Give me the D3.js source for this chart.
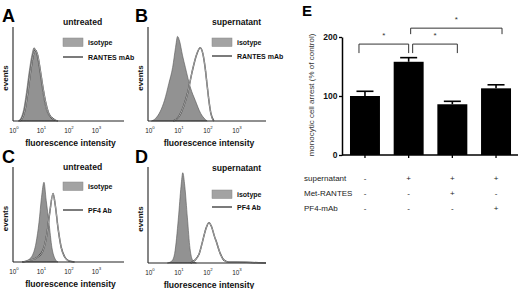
<!DOCTYPE html>
<html>
<head>
<meta charset="utf-8">
<script src="https://cdn.jsdelivr.net/npm/d3@7"></script>
<style>
  body { margin: 0; background: #fff; }
  svg { display: block; font-family: "Liberation Sans", Arial, sans-serif; }
</style>
</head>
<body>
<svg id="fig" width="520" height="289"></svg>
<script>
// flow histograms: [log10 decade, relative height]
var decadeTicks = [0, 1, 2, 3];

var histA_isotype = [[0.15,0],[0.25,0.03],[0.35,0.12],[0.45,0.3],[0.55,0.52],[0.65,0.7],[0.73,0.78],[0.8,0.74],[0.9,0.6],[1.0,0.4],[1.1,0.22],[1.2,0.1],[1.3,0.05],[1.42,0.03],[1.52,0]];
var histA_rantes  = [[0.2,0],[0.3,0.03],[0.4,0.12],[0.5,0.3],[0.6,0.52],[0.7,0.7],[0.78,0.75],[0.86,0.7],[0.95,0.55],[1.05,0.36],[1.15,0.2],[1.25,0.09],[1.35,0.04],[1.5,0.01],[1.6,0]];

var histB_isotype = [[0.05,0],[0.2,0.03],[0.35,0.1],[0.5,0.22],[0.65,0.4],[0.78,0.57],[0.88,0.78],[0.95,0.9],[1.02,0.85],[1.12,0.7],[1.22,0.57],[1.4,0.35],[1.56,0.22],[1.75,0.08],[1.97,0]];
var histB_rantes  = [[0.8,0],[1.0,0.05],[1.15,0.15],[1.3,0.3],[1.45,0.52],[1.6,0.7],[1.73,0.78],[1.82,0.72],[1.9,0.57],[1.97,0.38],[2.03,0.22],[2.1,0.08],[2.2,0]];

var histC_isotype = [[0.3,0],[0.5,0.02],[0.65,0.06],[0.8,0.2],[0.91,0.42],[1.0,0.68],[1.09,0.84],[1.17,0.65],[1.27,0.42],[1.38,0.15],[1.5,0.03],[1.6,0]];
var histC_pf4     = [[0.3,0],[0.6,0.02],[0.85,0.05],[1.05,0.12],[1.2,0.3],[1.3,0.52],[1.42,0.72],[1.5,0.6],[1.6,0.36],[1.72,0.15],[1.85,0.05],[2.0,0.01],[2.2,0]];

var histD_isotype = [[0.6,0],[0.75,0.02],[0.85,0.1],[0.98,0.47],[1.07,0.8],[1.13,0.94],[1.2,0.8],[1.29,0.47],[1.38,0.15],[1.47,0.03],[1.6,0]];
var histD_pf4     = [[1.4,0],[1.55,0.03],[1.7,0.1],[1.8,0.21],[1.92,0.35],[2.03,0.42],[2.12,0.38],[2.22,0.28],[2.3,0.21],[2.42,0.1],[2.55,0.03],[2.7,0.01],[3.0,0.01],[3.5,0.005],[4,0]];

// panel E
var conditions = ["control", "supernatant", "supernatant + Met-RANTES", "supernatant + PF4-mAb"];
var arrestValues = [100, 158, 86, 113];
var arrestErrors = [8, 7, 5, 6];
var arrestTicks = [0, 100, 200];
var tableRows = ["supernatant", "Met-RANTES", "PF4-mAb"];
var tableSigns = [["-", "+", "+", "+"], ["-", "-", "+", "-"], ["-", "-", "-", "+"]];
var sigPairs = [[0, 1], [1, 2], [1, 3]];
var sigLevels = [188, 188, 215];

var svg = d3.select("#fig");

var panels = [
  {letter: "A", title: "untreated", lineLabel: "RANTES mAb", iso: histA_isotype, ab: histA_rantes,
   x0: 13, x1: 124, xStart: 14, top: 27, bot: 121, lx: 63, ly: 38, lineY: 57, letterX: 2, letterY: 22, titleY: 25},
  {letter: "B", title: "supernatant", lineLabel: "RANTES mAb", iso: histB_isotype, ab: histB_rantes,
   x0: 148, x1: 266, xStart: 150, top: 27, bot: 121, lx: 212, ly: 38, lineY: 56, letterX: 135, letterY: 22, titleY: 25},
  {letter: "C", title: "untreated", lineLabel: "PF4 Ab", iso: histC_isotype, ab: histC_pf4,
   x0: 13, x1: 124, xStart: 14, top: 167, bot: 262, lx: 63, ly: 182, lineY: 210, letterX: 2, letterY: 163, titleY: 170},
  {letter: "D", title: "supernatant", lineLabel: "PF4 Ab", iso: histD_isotype, ab: histD_pf4,
   x0: 148, x1: 266, xStart: 150, top: 167, bot: 263, lx: 212, ly: 190, lineY: 207, letterX: 135, letterY: 163, titleY: 171}
];

panels.forEach(function (p) {
  var g = svg.append("g");
  var x = d3.scaleLinear().domain([0, 4]).range([p.xStart, p.x1]);
  var y = d3.scaleLinear().domain([0, 1]).range([p.bot, p.top]);

  var area = d3.area().x(d => x(d[0])).y0(p.bot).y1(d => y(d[1])).curve(d3.curveMonotoneX);
  var line = d3.line().x(d => x(d[0])).y(d => y(d[1])).curve(d3.curveMonotoneX);

  // isotype filled
  g.append("path").attr("d", area(p.iso))
    .attr("fill", "#929292").attr("stroke", "#555").attr("stroke-width", 0.6);
  // antibody outline
  g.append("path").attr("d", line(p.ab))
    .attr("fill", "none").attr("stroke", "#3a3a3a").attr("stroke-width", 1.5);
  g.append("path").attr("d", line(p.ab))
    .attr("fill", "none").attr("stroke", "#eeeeee").attr("stroke-width", 0.6);

  // axes
  g.append("line").attr("x1", p.x0).attr("x2", p.x0).attr("y1", p.top).attr("y2", p.bot)
    .attr("stroke", "#222").attr("stroke-width", 1.1);
  g.append("line").attr("x1", p.x0).attr("x2", p.x1).attr("y1", p.bot).attr("y2", p.bot)
    .attr("stroke", "#222").attr("stroke-width", 1.1);

  var tl = g.selectAll(".tl").data(decadeTicks).join("text")
    .attr("x", d => x(d)).attr("y", p.bot + 12)
    .attr("text-anchor", "middle").attr("font-size", 6.4).attr("fill", "#222");
  tl.append("tspan").text("10");
  tl.append("tspan").attr("dy", -4.5).attr("font-size", 4.3).text(d => d);

  g.append("text").attr("x", (p.x0 + p.x1) / 2 + 2).attr("y", p.bot + 25)
    .attr("text-anchor", "middle").attr("font-size", 8.6).attr("font-weight", "bold")
    .attr("fill", "#111").text("fluorescence intensity");

  g.append("text").attr("transform", "translate(" + (p.x0 - 5) + "," + ((p.top + p.bot) / 2 + 4) + ") rotate(-90)")
    .attr("text-anchor", "middle").attr("font-size", 8).attr("font-weight", "bold")
    .attr("fill", "#111").text("events");

  g.append("text").attr("x", p.letterX).attr("y", p.letterY)
    .attr("font-size", 18).attr("font-weight", "bold").attr("fill", "#000").text(p.letter);

  g.append("text").attr("x", p.lx).attr("y", p.titleY)
    .attr("font-size", 8.6).attr("font-weight", "bold").attr("fill", "#111").text(p.title);

  // legend
  g.append("rect").attr("x", p.lx).attr("y", p.ly).attr("width", 20).attr("height", 8.5)
    .attr("fill", "#a3a3a3").attr("stroke", "#888").attr("stroke-width", 0.5);
  g.append("text").attr("x", p.lx + 25).attr("y", p.ly + 7)
    .attr("font-size", 7).attr("font-weight", "bold").attr("fill", "#111").text("isotype");
  g.append("line").attr("x1", p.lx).attr("x2", p.lx + 20).attr("y1", p.lineY).attr("y2", p.lineY)
    .attr("stroke", "#333").attr("stroke-width", 1.3);
  g.append("text").attr("x", p.lx + 25).attr("y", p.lineY + 2.5)
    .attr("font-size", 7).attr("font-weight", "bold").attr("fill", "#111").text(p.lineLabel);
});

// ---- panel E ----
var gE = svg.append("g");
var xE = d3.scaleBand().domain(d3.range(conditions.length)).range([343, 518])
  .paddingInner(0.314).paddingOuter(0.16);
var yE = d3.scaleLinear().domain([0, 200]).range([155, 37]);
var cx = i => xE(i) + xE.bandwidth() / 2;

gE.append("text").attr("x", 302).attr("y", 16)
  .attr("font-size", 15).attr("font-weight", "bold").text("E");

// error bars (upper only)
gE.selectAll(".err").data(arrestValues).join("line")
  .attr("x1", (d, i) => cx(i)).attr("x2", (d, i) => cx(i))
  .attr("y1", d => yE(d)).attr("y2", (d, i) => yE(d + arrestErrors[i]))
  .attr("stroke", "#000").attr("stroke-width", 1.6);
gE.selectAll(".cap").data(arrestValues).join("line")
  .attr("x1", (d, i) => cx(i) - 8.5).attr("x2", (d, i) => cx(i) + 8.5)
  .attr("y1", (d, i) => yE(d + arrestErrors[i])).attr("y2", (d, i) => yE(d + arrestErrors[i]))
  .attr("stroke", "#000").attr("stroke-width", 1.6);

gE.selectAll(".bar").data(arrestValues).join("rect")
  .attr("x", (d, i) => xE(i)).attr("width", xE.bandwidth())
  .attr("y", d => yE(d)).attr("height", d => yE(0) - yE(d))
  .attr("fill", "#000");

var yAxis = gE.append("g").attr("transform", "translate(342,0)")
  .call(d3.axisLeft(yE).tickValues(arrestTicks).tickSize(3).tickSizeOuter(0));
yAxis.select(".domain").attr("stroke-width", 1.5);
yAxis.selectAll(".tick line").attr("stroke-width", 1.3);
yAxis.selectAll("text").attr("font-size", 8.5).attr("font-weight", "bold")
  .attr("font-family", "Liberation Sans, Arial, sans-serif").attr("x", -4.5).attr("fill", "#111");

var xAxis = gE.append("g").attr("transform", "translate(0,155)")
  .call(d3.axisBottom(xE).tickSize(3).tickSizeOuter(0).tickFormat(""));
xAxis.select(".domain").attr("stroke-width", 1.5).attr("d", "M342,0H518");
xAxis.selectAll(".tick line").attr("stroke-width", 1.3);

gE.append("text")
  .attr("transform", "translate(314,95) rotate(-90)")
  .attr("text-anchor", "middle").attr("font-size", 8).attr("fill", "#333")
  .text("monocytic cell arrest (% of control)");

// significance brackets
var bracketOffsets = [[-6, 0], [4, 5], [2, 6]];
sigPairs.forEach(function (pr, k) {
  var xl = cx(pr[0]) + bracketOffsets[k][0], xr = cx(pr[1]) + bracketOffsets[k][1];
  var yt = yE(sigLevels[k]), leg = k === 2 ? 6 : 9;
  gE.append("path")
    .attr("d", "M" + xl + "," + (yt + leg) + "V" + yt + "H" + xr + "V" + (yt + leg))
    .attr("fill", "none").attr("stroke", "#333").attr("stroke-width", 1);
  gE.append("text").attr("x", (xl + xr) / 2).attr("y", yt - 6)
    .attr("text-anchor", "middle").attr("font-size", 8).attr("fill", "#333").text("*");
});

// condition table
tableRows.forEach(function (r, k) {
  var yy = 181 + k * 15;
  gE.append("text").attr("x", 304).attr("y", yy).attr("font-size", 8).attr("fill", "#222").text(r);
  gE.selectAll(".s" + k).data(tableSigns[k]).join("text")
    .attr("x", (d, i) => cx(i)).attr("y", yy)
    .attr("text-anchor", "middle").attr("font-size", 8).attr("fill", "#222").text(d => d);
});
</script>
</body>
</html>
